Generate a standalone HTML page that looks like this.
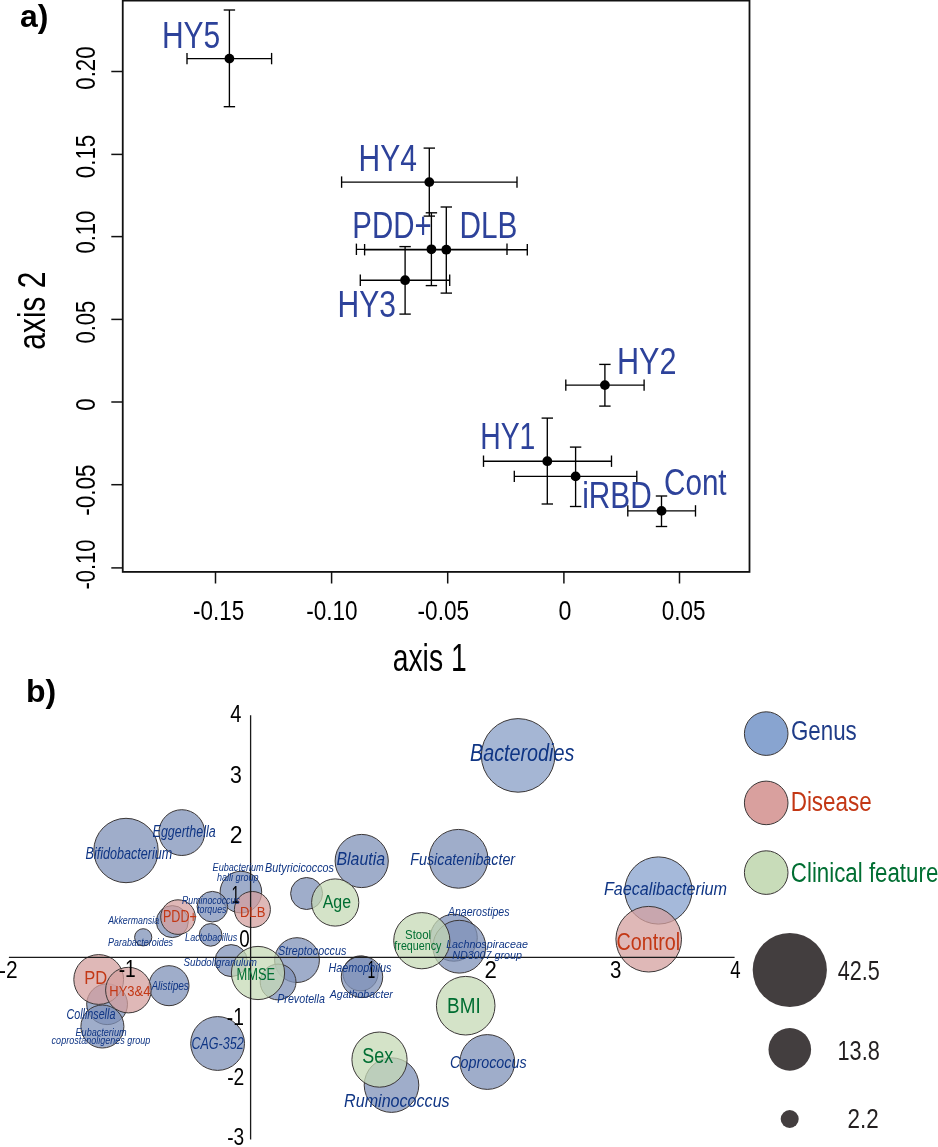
<!DOCTYPE html>
<html><head><meta charset="utf-8"><style>
html,body{margin:0;padding:0;background:#fff;overflow:hidden}
svg{display:block;will-change:transform}
text{font-family:"Liberation Sans",sans-serif}
</style></head><body>
<svg width="938" height="1147" viewBox="0 0 938 1147">
<rect x="122.75" y="0.6" width="626.75" height="571.3" fill="none" stroke="#111" stroke-width="1.8"/>
<line x1="111.30" y1="71.50" x2="122.75" y2="71.50" stroke="#111" stroke-width="1.5"/>
<text transform="rotate(-90)" x="-89.67" y="95.00" font-size="27.70" fill="#000" textLength="43.24" lengthAdjust="spacingAndGlyphs">0.20</text>
<line x1="111.30" y1="154.40" x2="122.75" y2="154.40" stroke="#111" stroke-width="1.5"/>
<text transform="rotate(-90)" x="-178.17" y="95.00" font-size="27.70" fill="#000" textLength="43.30" lengthAdjust="spacingAndGlyphs">0.15</text>
<line x1="111.30" y1="236.60" x2="122.75" y2="236.60" stroke="#111" stroke-width="1.5"/>
<text transform="rotate(-90)" x="-253.56" y="95.00" font-size="27.70" fill="#000" textLength="42.82" lengthAdjust="spacingAndGlyphs">0.10</text>
<line x1="111.30" y1="319.40" x2="122.75" y2="319.40" stroke="#111" stroke-width="1.5"/>
<text transform="rotate(-90)" x="-343.56" y="95.00" font-size="27.70" fill="#000" textLength="42.89" lengthAdjust="spacingAndGlyphs">0.05</text>
<line x1="111.30" y1="402.00" x2="122.75" y2="402.00" stroke="#111" stroke-width="1.5"/>
<text transform="rotate(-90)" x="-410.77" y="95.00" font-size="27.70" fill="#000" textLength="12.45" lengthAdjust="spacingAndGlyphs">0</text>
<line x1="111.30" y1="484.70" x2="122.75" y2="484.70" stroke="#111" stroke-width="1.5"/>
<text transform="rotate(-90)" x="-515.80" y="95.00" font-size="27.70" fill="#000" textLength="51.35" lengthAdjust="spacingAndGlyphs">-0.05</text>
<line x1="111.30" y1="567.90" x2="122.75" y2="567.90" stroke="#111" stroke-width="1.5"/>
<text transform="rotate(-90)" x="-589.58" y="95.00" font-size="27.70" fill="#000" textLength="50.03" lengthAdjust="spacingAndGlyphs">-0.10</text>
<line x1="215.50" y1="571.90" x2="215.50" y2="583.50" stroke="#111" stroke-width="1.5"/>
<text x="193.00" y="620.30" font-size="27.70" fill="#000" textLength="51.14" lengthAdjust="spacingAndGlyphs">-0.15</text>
<line x1="331.60" y1="571.90" x2="331.60" y2="583.50" stroke="#111" stroke-width="1.5"/>
<text x="306.20" y="620.30" font-size="27.70" fill="#000" textLength="51.49" lengthAdjust="spacingAndGlyphs">-0.10</text>
<line x1="447.70" y1="571.90" x2="447.70" y2="583.50" stroke="#111" stroke-width="1.5"/>
<text x="417.59" y="620.30" font-size="27.70" fill="#000" textLength="51.55" lengthAdjust="spacingAndGlyphs">-0.05</text>
<line x1="563.90" y1="571.90" x2="563.90" y2="583.50" stroke="#111" stroke-width="1.5"/>
<text x="558.49" y="620.30" font-size="27.70" fill="#000" textLength="12.91" lengthAdjust="spacingAndGlyphs">0</text>
<line x1="679.50" y1="571.90" x2="679.50" y2="583.50" stroke="#111" stroke-width="1.5"/>
<text x="661.82" y="620.30" font-size="27.70" fill="#000" textLength="43.72" lengthAdjust="spacingAndGlyphs">0.05</text>
<text x="392.70" y="670.50" font-size="37.90" fill="#000" textLength="73.99" lengthAdjust="spacingAndGlyphs">axis 1</text>
<text transform="rotate(-90)" x="-349.67" y="45.30" font-size="37.90" fill="#000" textLength="78.07" lengthAdjust="spacingAndGlyphs">axis 2</text>
<text x="19.96" y="26.90" font-size="31.50" font-weight="bold" fill="#000" textLength="28.43" lengthAdjust="spacingAndGlyphs">a)</text>
<line x1="187.00" y1="58.60" x2="271.60" y2="58.60" stroke="#000" stroke-width="1.35"/>
<line x1="187.00" y1="52.90" x2="187.00" y2="64.30" stroke="#000" stroke-width="1.35"/>
<line x1="271.60" y1="52.90" x2="271.60" y2="64.30" stroke="#000" stroke-width="1.35"/>
<line x1="229.40" y1="10.00" x2="229.40" y2="106.70" stroke="#000" stroke-width="1.35"/>
<line x1="223.70" y1="10.00" x2="235.10" y2="10.00" stroke="#000" stroke-width="1.35"/>
<line x1="223.70" y1="106.70" x2="235.10" y2="106.70" stroke="#000" stroke-width="1.35"/>
<line x1="341.60" y1="182.10" x2="517.00" y2="182.10" stroke="#000" stroke-width="1.35"/>
<line x1="341.60" y1="176.40" x2="341.60" y2="187.80" stroke="#000" stroke-width="1.35"/>
<line x1="517.00" y1="176.40" x2="517.00" y2="187.80" stroke="#000" stroke-width="1.35"/>
<line x1="429.30" y1="148.10" x2="429.30" y2="216.10" stroke="#000" stroke-width="1.35"/>
<line x1="423.60" y1="148.10" x2="435.00" y2="148.10" stroke="#000" stroke-width="1.35"/>
<line x1="423.60" y1="216.10" x2="435.00" y2="216.10" stroke="#000" stroke-width="1.35"/>
<line x1="356.40" y1="249.30" x2="507.00" y2="249.30" stroke="#000" stroke-width="1.35"/>
<line x1="356.40" y1="243.60" x2="356.40" y2="255.00" stroke="#000" stroke-width="1.35"/>
<line x1="507.00" y1="243.60" x2="507.00" y2="255.00" stroke="#000" stroke-width="1.35"/>
<line x1="431.40" y1="212.80" x2="431.40" y2="285.60" stroke="#000" stroke-width="1.35"/>
<line x1="425.70" y1="212.80" x2="437.10" y2="212.80" stroke="#000" stroke-width="1.35"/>
<line x1="425.70" y1="285.60" x2="437.10" y2="285.60" stroke="#000" stroke-width="1.35"/>
<line x1="364.60" y1="249.70" x2="527.30" y2="249.70" stroke="#000" stroke-width="1.35"/>
<line x1="364.60" y1="244.00" x2="364.60" y2="255.40" stroke="#000" stroke-width="1.35"/>
<line x1="527.30" y1="244.00" x2="527.30" y2="255.40" stroke="#000" stroke-width="1.35"/>
<line x1="446.30" y1="207.00" x2="446.30" y2="293.10" stroke="#000" stroke-width="1.35"/>
<line x1="440.60" y1="207.00" x2="452.00" y2="207.00" stroke="#000" stroke-width="1.35"/>
<line x1="440.60" y1="293.10" x2="452.00" y2="293.10" stroke="#000" stroke-width="1.35"/>
<line x1="360.30" y1="280.20" x2="449.70" y2="280.20" stroke="#000" stroke-width="1.35"/>
<line x1="360.30" y1="274.50" x2="360.30" y2="285.90" stroke="#000" stroke-width="1.35"/>
<line x1="449.70" y1="274.50" x2="449.70" y2="285.90" stroke="#000" stroke-width="1.35"/>
<line x1="405.10" y1="246.60" x2="405.10" y2="314.10" stroke="#000" stroke-width="1.35"/>
<line x1="399.40" y1="246.60" x2="410.80" y2="246.60" stroke="#000" stroke-width="1.35"/>
<line x1="399.40" y1="314.10" x2="410.80" y2="314.10" stroke="#000" stroke-width="1.35"/>
<line x1="565.80" y1="385.10" x2="644.10" y2="385.10" stroke="#000" stroke-width="1.35"/>
<line x1="565.80" y1="379.40" x2="565.80" y2="390.80" stroke="#000" stroke-width="1.35"/>
<line x1="644.10" y1="379.40" x2="644.10" y2="390.80" stroke="#000" stroke-width="1.35"/>
<line x1="604.90" y1="364.40" x2="604.90" y2="406.10" stroke="#000" stroke-width="1.35"/>
<line x1="599.20" y1="364.40" x2="610.60" y2="364.40" stroke="#000" stroke-width="1.35"/>
<line x1="599.20" y1="406.10" x2="610.60" y2="406.10" stroke="#000" stroke-width="1.35"/>
<line x1="483.50" y1="461.20" x2="611.50" y2="461.20" stroke="#000" stroke-width="1.35"/>
<line x1="483.50" y1="455.50" x2="483.50" y2="466.90" stroke="#000" stroke-width="1.35"/>
<line x1="611.50" y1="455.50" x2="611.50" y2="466.90" stroke="#000" stroke-width="1.35"/>
<line x1="547.30" y1="418.10" x2="547.30" y2="504.00" stroke="#000" stroke-width="1.35"/>
<line x1="541.60" y1="418.10" x2="553.00" y2="418.10" stroke="#000" stroke-width="1.35"/>
<line x1="541.60" y1="504.00" x2="553.00" y2="504.00" stroke="#000" stroke-width="1.35"/>
<line x1="514.30" y1="476.40" x2="636.80" y2="476.40" stroke="#000" stroke-width="1.35"/>
<line x1="514.30" y1="470.70" x2="514.30" y2="482.10" stroke="#000" stroke-width="1.35"/>
<line x1="636.80" y1="470.70" x2="636.80" y2="482.10" stroke="#000" stroke-width="1.35"/>
<line x1="575.60" y1="447.10" x2="575.60" y2="506.50" stroke="#000" stroke-width="1.35"/>
<line x1="569.90" y1="447.10" x2="581.30" y2="447.10" stroke="#000" stroke-width="1.35"/>
<line x1="569.90" y1="506.50" x2="581.30" y2="506.50" stroke="#000" stroke-width="1.35"/>
<line x1="627.80" y1="510.90" x2="695.50" y2="510.90" stroke="#000" stroke-width="1.35"/>
<line x1="627.80" y1="505.20" x2="627.80" y2="516.60" stroke="#000" stroke-width="1.35"/>
<line x1="695.50" y1="505.20" x2="695.50" y2="516.60" stroke="#000" stroke-width="1.35"/>
<line x1="661.50" y1="496.00" x2="661.50" y2="526.50" stroke="#000" stroke-width="1.35"/>
<line x1="655.80" y1="496.00" x2="667.20" y2="496.00" stroke="#000" stroke-width="1.35"/>
<line x1="655.80" y1="526.50" x2="667.20" y2="526.50" stroke="#000" stroke-width="1.35"/>
<circle cx="229.4" cy="58.6" r="4.9" fill="#000"/>
<circle cx="429.3" cy="182.1" r="4.9" fill="#000"/>
<circle cx="431.4" cy="249.3" r="4.9" fill="#000"/>
<circle cx="446.3" cy="249.7" r="4.9" fill="#000"/>
<circle cx="405.1" cy="280.2" r="4.9" fill="#000"/>
<circle cx="604.9" cy="385.1" r="4.9" fill="#000"/>
<circle cx="547.3" cy="461.2" r="4.9" fill="#000"/>
<circle cx="575.6" cy="476.4" r="4.9" fill="#000"/>
<circle cx="661.5" cy="510.9" r="4.9" fill="#000"/>
<text x="161.94" y="47.60" font-size="37.40" fill="#2d429a" textLength="58.32" lengthAdjust="spacingAndGlyphs">HY5</text>
<text x="358.54" y="171.00" font-size="37.40" fill="#2d429a" textLength="58.34" lengthAdjust="spacingAndGlyphs">HY4</text>
<text x="352.28" y="238.40" font-size="37.40" fill="#2d429a" textLength="79.37" lengthAdjust="spacingAndGlyphs">PDD+</text>
<text x="459.46" y="238.40" font-size="37.40" fill="#2d429a" textLength="57.91" lengthAdjust="spacingAndGlyphs">DLB</text>
<text x="337.54" y="317.00" font-size="37.40" fill="#2d429a" textLength="58.38" lengthAdjust="spacingAndGlyphs">HY3</text>
<text x="616.89" y="374.20" font-size="37.40" fill="#2d429a" textLength="59.55" lengthAdjust="spacingAndGlyphs">HY2</text>
<text x="480.17" y="448.90" font-size="37.40" fill="#2d429a" textLength="55.21" lengthAdjust="spacingAndGlyphs">HY1</text>
<text x="582.21" y="507.60" font-size="37.40" fill="#2d429a" textLength="69.52" lengthAdjust="spacingAndGlyphs">iRBD</text>
<text x="663.99" y="494.90" font-size="37.40" fill="#2d429a" textLength="62.62" lengthAdjust="spacingAndGlyphs">Cont</text>
<text x="25.99" y="701.70" font-size="31.50" font-weight="bold" fill="#000" textLength="30.20" lengthAdjust="spacingAndGlyphs">b)</text>
<circle cx="518.1" cy="755.4" r="36.8" fill="#879ec6" fill-opacity="0.75" stroke="#3a3636" stroke-width="1"/>
<circle cx="126" cy="850.5" r="32.2" fill="#7f92b8" fill-opacity="0.75" stroke="#3a3636" stroke-width="1"/>
<circle cx="181.8" cy="832.6" r="22.9" fill="#7f92b8" fill-opacity="0.75" stroke="#3a3636" stroke-width="1"/>
<circle cx="361.7" cy="861" r="26.6" fill="#7f92b8" fill-opacity="0.75" stroke="#3a3636" stroke-width="1"/>
<circle cx="458.5" cy="858.8" r="29.4" fill="#7f92b8" fill-opacity="0.75" stroke="#3a3636" stroke-width="1"/>
<circle cx="658.4" cy="890.5" r="33.6" fill="#87a2ce" fill-opacity="0.75" stroke="#3a3636" stroke-width="1"/>
<circle cx="240.9" cy="892.1" r="20.8" fill="#7f92b8" fill-opacity="0.75" stroke="#3a3636" stroke-width="1"/>
<circle cx="306.6" cy="893.5" r="16" fill="#7f92b8" fill-opacity="0.75" stroke="#3a3636" stroke-width="1"/>
<circle cx="212.4" cy="906.7" r="15.3" fill="#7f92b8" fill-opacity="0.75" stroke="#3a3636" stroke-width="1"/>
<circle cx="172.3" cy="921.6" r="16" fill="#7f92b8" fill-opacity="0.75" stroke="#3a3636" stroke-width="1"/>
<circle cx="210.6" cy="934.9" r="11.3" fill="#7f92b8" fill-opacity="0.75" stroke="#3a3636" stroke-width="1"/>
<circle cx="143.2" cy="937.3" r="8.6" fill="#7f92b8" fill-opacity="0.75" stroke="#3a3636" stroke-width="1"/>
<circle cx="453.8" cy="937.7" r="23.5" fill="#7f92b8" fill-opacity="0.75" stroke="#3a3636" stroke-width="1"/>
<circle cx="459.3" cy="946.7" r="26.4" fill="#7f92b8" fill-opacity="0.75" stroke="#3a3636" stroke-width="1"/>
<circle cx="231.1" cy="960.6" r="16" fill="#7f92b8" fill-opacity="0.75" stroke="#3a3636" stroke-width="1"/>
<circle cx="297" cy="960.1" r="22.4" fill="#7f92b8" fill-opacity="0.75" stroke="#3a3636" stroke-width="1"/>
<circle cx="278.1" cy="982" r="17.9" fill="#7f92b8" fill-opacity="0.75" stroke="#3a3636" stroke-width="1"/>
<circle cx="360.5" cy="973.4" r="17.5" fill="#7f92b8" fill-opacity="0.75" stroke="#3a3636" stroke-width="1"/>
<circle cx="362" cy="976.9" r="20.7" fill="#7f92b8" fill-opacity="0.75" stroke="#3a3636" stroke-width="1"/>
<circle cx="169" cy="985.7" r="20" fill="#7f92b8" fill-opacity="0.75" stroke="#3a3636" stroke-width="1"/>
<circle cx="107.1" cy="1004.2" r="20.4" fill="#7f92b8" fill-opacity="0.75" stroke="#3a3636" stroke-width="1"/>
<circle cx="102.4" cy="1026.5" r="21.5" fill="#7f92b8" fill-opacity="0.75" stroke="#3a3636" stroke-width="1"/>
<circle cx="217.6" cy="1043.5" r="26.9" fill="#7f92b8" fill-opacity="0.75" stroke="#3a3636" stroke-width="1"/>
<circle cx="487.3" cy="1062" r="27.4" fill="#7f92b8" fill-opacity="0.75" stroke="#3a3636" stroke-width="1"/>
<circle cx="391.5" cy="1085.1" r="27.3" fill="#7f92b8" fill-opacity="0.75" stroke="#3a3636" stroke-width="1"/>
<circle cx="178" cy="917.1" r="17.3" fill="#d4a09f" fill-opacity="0.75" stroke="#3a3636" stroke-width="1"/>
<circle cx="252.4" cy="909.5" r="18" fill="#d4a09f" fill-opacity="0.75" stroke="#3a3636" stroke-width="1"/>
<circle cx="98.7" cy="979.5" r="24.9" fill="#d4a09f" fill-opacity="0.75" stroke="#3a3636" stroke-width="1"/>
<circle cx="128.4" cy="990.1" r="22.8" fill="#d4a09f" fill-opacity="0.75" stroke="#3a3636" stroke-width="1"/>
<circle cx="648.7" cy="939.2" r="32.8" fill="#d4a09f" fill-opacity="0.75" stroke="#3a3636" stroke-width="1"/>
<circle cx="335.2" cy="902.5" r="23.6" fill="#c6dab6" fill-opacity="0.75" stroke="#3a3636" stroke-width="1"/>
<circle cx="421.8" cy="940.7" r="28.1" fill="#c6dab6" fill-opacity="0.75" stroke="#3a3636" stroke-width="1"/>
<circle cx="258" cy="973" r="26.6" fill="#c6dab6" fill-opacity="0.75" stroke="#3a3636" stroke-width="1"/>
<circle cx="465.7" cy="1005.7" r="29.3" fill="#c6dab6" fill-opacity="0.75" stroke="#3a3636" stroke-width="1"/>
<circle cx="379.5" cy="1059.6" r="27.6" fill="#c6dab6" fill-opacity="0.75" stroke="#3a3636" stroke-width="1"/>
<line x1="8.90" y1="957.30" x2="734.60" y2="957.30" stroke="#1a1a1a" stroke-width="1.3"/>
<line x1="250.60" y1="715.20" x2="250.60" y2="1139.50" stroke="#1a1a1a" stroke-width="1.3"/>
<text x="230.24" y="722.00" font-size="23.20" fill="#000" textLength="11.15" lengthAdjust="spacingAndGlyphs">4</text>
<text x="229.89" y="782.80" font-size="23.20" fill="#000" textLength="11.85" lengthAdjust="spacingAndGlyphs">3</text>
<text x="229.64" y="843.40" font-size="23.20" fill="#000" textLength="12.82" lengthAdjust="spacingAndGlyphs">2</text>
<text x="231.59" y="902.60" font-size="23.20" fill="#000" textLength="8.13" lengthAdjust="spacingAndGlyphs">1</text>
<text x="239.26" y="947.40" font-size="23.20" fill="#000" textLength="10.47" lengthAdjust="spacingAndGlyphs">0</text>
<text x="226.75" y="1024.60" font-size="23.20" fill="#000" textLength="17.09" lengthAdjust="spacingAndGlyphs">-1</text>
<text x="227.14" y="1085.00" font-size="23.20" fill="#000" textLength="17.12" lengthAdjust="spacingAndGlyphs">-2</text>
<text x="227.15" y="1144.80" font-size="23.20" fill="#000" textLength="16.99" lengthAdjust="spacingAndGlyphs">-3</text>
<text x="-0.93" y="977.70" font-size="23.20" fill="#000" textLength="18.58" lengthAdjust="spacingAndGlyphs">-2</text>
<text x="118.65" y="977.30" font-size="23.20" fill="#000" textLength="17.09" lengthAdjust="spacingAndGlyphs">-1</text>
<text x="367.44" y="977.70" font-size="23.20" fill="#000" textLength="7.74" lengthAdjust="spacingAndGlyphs">1</text>
<text x="484.48" y="977.90" font-size="23.20" fill="#000" textLength="12.33" lengthAdjust="spacingAndGlyphs">2</text>
<text x="610.02" y="977.50" font-size="23.20" fill="#000" textLength="11.38" lengthAdjust="spacingAndGlyphs">3</text>
<text x="730.17" y="977.50" font-size="23.20" fill="#000" textLength="10.37" lengthAdjust="spacingAndGlyphs">4</text>
<text x="470.09" y="761.00" font-size="23.70" font-style="italic" fill="#0f3584" textLength="104.21" lengthAdjust="spacingAndGlyphs">Bacterodies</text>
<text x="85.51" y="859.40" font-size="16.90" font-style="italic" fill="#0f3584" textLength="86.77" lengthAdjust="spacingAndGlyphs">Bifidobacterium</text>
<text x="152.62" y="837.20" font-size="16.90" font-style="italic" fill="#0f3584" textLength="63.01" lengthAdjust="spacingAndGlyphs">Eggerthella</text>
<text x="336.41" y="864.80" font-size="18.50" font-style="italic" fill="#0f3584" textLength="48.74" lengthAdjust="spacingAndGlyphs">Blautia</text>
<text x="410.26" y="865.30" font-size="16.90" font-style="italic" fill="#0f3584" textLength="104.86" lengthAdjust="spacingAndGlyphs">Fusicatenibacter</text>
<text x="603.90" y="894.90" font-size="18.90" font-style="italic" fill="#0f3584" textLength="123.15" lengthAdjust="spacingAndGlyphs">Faecalibacterium</text>
<text x="212.62" y="870.80" font-size="10.50" font-style="italic" fill="#0f3584" textLength="51.10" lengthAdjust="spacingAndGlyphs">Eubacterium</text>
<text x="217.05" y="881.20" font-size="10.50" font-style="italic" fill="#0f3584" textLength="41.54" lengthAdjust="spacingAndGlyphs">halli group</text>
<text x="265.07" y="871.60" font-size="12.00" font-style="italic" fill="#0f3584" textLength="68.95" lengthAdjust="spacingAndGlyphs">Butyricicoccos</text>
<text x="181.93" y="903.70" font-size="10.20" font-style="italic" fill="#0f3584" textLength="57.95" lengthAdjust="spacingAndGlyphs">Ruminococcus</text>
<text x="197.10" y="912.80" font-size="10.20" font-style="italic" fill="#0f3584" textLength="29.38" lengthAdjust="spacingAndGlyphs">torques</text>
<text x="108.13" y="924.10" font-size="11.00" font-style="italic" fill="#0f3584" textLength="50.97" lengthAdjust="spacingAndGlyphs">Akkermansia</text>
<text x="108.03" y="946.30" font-size="11.20" font-style="italic" fill="#0f3584" textLength="65.06" lengthAdjust="spacingAndGlyphs">Parabacteroides</text>
<text x="185.12" y="940.80" font-size="10.20" font-style="italic" fill="#0f3584" textLength="52.26" lengthAdjust="spacingAndGlyphs">Lactobacillus</text>
<text x="447.92" y="915.80" font-size="12.00" font-style="italic" fill="#0f3584" textLength="61.60" lengthAdjust="spacingAndGlyphs">Anaerostipes</text>
<text x="446.17" y="947.70" font-size="11.00" font-style="italic" fill="#0f3584" textLength="81.73" lengthAdjust="spacingAndGlyphs">Lachnospiraceae</text>
<text x="452.17" y="958.60" font-size="11.00" font-style="italic" fill="#0f3584" textLength="69.78" lengthAdjust="spacingAndGlyphs">ND3007 group</text>
<text x="183.52" y="966.30" font-size="11.80" font-style="italic" fill="#0f3584" textLength="73.33" lengthAdjust="spacingAndGlyphs">Subdoligranulum</text>
<text x="278.09" y="955.40" font-size="12.50" font-style="italic" fill="#0f3584" textLength="68.33" lengthAdjust="spacingAndGlyphs">Streptococcus</text>
<text x="277.17" y="1003.30" font-size="13.50" font-style="italic" fill="#0f3584" textLength="47.70" lengthAdjust="spacingAndGlyphs">Prevotella</text>
<text x="328.57" y="971.70" font-size="12.20" font-style="italic" fill="#0f3584" textLength="62.85" lengthAdjust="spacingAndGlyphs">Haemophilus</text>
<text x="329.72" y="997.80" font-size="11.80" font-style="italic" fill="#0f3584" textLength="63.12" lengthAdjust="spacingAndGlyphs">Agathobacter</text>
<text x="151.40" y="990.30" font-size="13.50" font-style="italic" fill="#0f3584" textLength="37.51" lengthAdjust="spacingAndGlyphs">Alistipes</text>
<text x="66.41" y="1018.70" font-size="14.30" font-style="italic" fill="#0f3584" textLength="48.96" lengthAdjust="spacingAndGlyphs">Collinsella</text>
<text x="75.52" y="1035.80" font-size="10.60" font-style="italic" fill="#0f3584" textLength="51.00" lengthAdjust="spacingAndGlyphs">Eubacterium</text>
<text x="51.61" y="1044.30" font-size="10.60" font-style="italic" fill="#0f3584" textLength="98.69" lengthAdjust="spacingAndGlyphs">coprostanoligenes group</text>
<text x="191.41" y="1049.00" font-size="16.00" font-style="italic" fill="#0f3584" textLength="52.28" lengthAdjust="spacingAndGlyphs">CAG-352</text>
<text x="450.11" y="1067.60" font-size="16.40" font-style="italic" fill="#0f3584" textLength="76.48" lengthAdjust="spacingAndGlyphs">Coprococus</text>
<text x="344.11" y="1106.60" font-size="18.90" font-style="italic" fill="#0f3584" textLength="105.52" lengthAdjust="spacingAndGlyphs">Ruminococcus</text>
<text x="162.97" y="921.60" font-size="15.80" fill="#c33714" textLength="33.85" lengthAdjust="spacingAndGlyphs">PDD+</text>
<text x="239.93" y="917.20" font-size="15.00" fill="#c33714" textLength="25.46" lengthAdjust="spacingAndGlyphs">DLB</text>
<text x="84.35" y="983.80" font-size="17.70" fill="#c33714" textLength="22.95" lengthAdjust="spacingAndGlyphs">PD</text>
<text x="109.34" y="996.40" font-size="15.40" fill="#c33714" textLength="41.04" lengthAdjust="spacingAndGlyphs">HY3&amp;4</text>
<text x="616.50" y="949.60" font-size="24.40" fill="#c33714" textLength="63.62" lengthAdjust="spacingAndGlyphs">Control</text>
<text x="322.67" y="908.00" font-size="18.30" fill="#006e32" textLength="28.34" lengthAdjust="spacingAndGlyphs">Age</text>
<text x="405.08" y="939.00" font-size="13.70" fill="#006e32" textLength="25.98" lengthAdjust="spacingAndGlyphs">Stool</text>
<text x="394.35" y="949.80" font-size="13.70" fill="#006e32" textLength="47.07" lengthAdjust="spacingAndGlyphs">frequency</text>
<text x="236.44" y="979.90" font-size="16.00" fill="#006e32" textLength="38.71" lengthAdjust="spacingAndGlyphs">MMSE</text>
<text x="447.05" y="1013.30" font-size="21.50" fill="#006e32" textLength="33.59" lengthAdjust="spacingAndGlyphs">BMI</text>
<text x="362.28" y="1063.40" font-size="21.80" fill="#006e32" textLength="31.01" lengthAdjust="spacingAndGlyphs">Sex</text>
<circle cx="766.2" cy="733.6" r="21.8" fill="#88a4d0" stroke="#3a3636" stroke-width="1"/>
<circle cx="766.2" cy="802.9" r="21.8" fill="#d9a09e" stroke="#3a3636" stroke-width="1"/>
<circle cx="766.2" cy="872.6" r="21.8" fill="#c8dcb9" stroke="#3a3636" stroke-width="1"/>
<text x="790.98" y="739.90" font-size="27.00" fill="#1f3c88" textLength="65.73" lengthAdjust="spacingAndGlyphs">Genus</text>
<text x="790.66" y="810.80" font-size="27.00" fill="#c33714" textLength="81.14" lengthAdjust="spacingAndGlyphs">Disease</text>
<text x="790.87" y="881.80" font-size="27.00" fill="#006e32" textLength="147.42" lengthAdjust="spacingAndGlyphs">Clinical feature</text>
<circle cx="789.8" cy="970" r="37.1" fill="#433e3f"/>
<circle cx="789.8" cy="1049.4" r="21.3" fill="#433e3f"/>
<circle cx="789.7" cy="1119" r="9" fill="#433e3f"/>
<text x="837.70" y="980.20" font-size="27.00" fill="#231f20" textLength="42.10" lengthAdjust="spacingAndGlyphs">42.5</text>
<text x="837.54" y="1060.40" font-size="27.00" fill="#231f20" textLength="42.30" lengthAdjust="spacingAndGlyphs">13.8</text>
<text x="847.57" y="1128.00" font-size="27.00" fill="#231f20" textLength="31.15" lengthAdjust="spacingAndGlyphs">2.2</text>
</svg>
</body></html>
